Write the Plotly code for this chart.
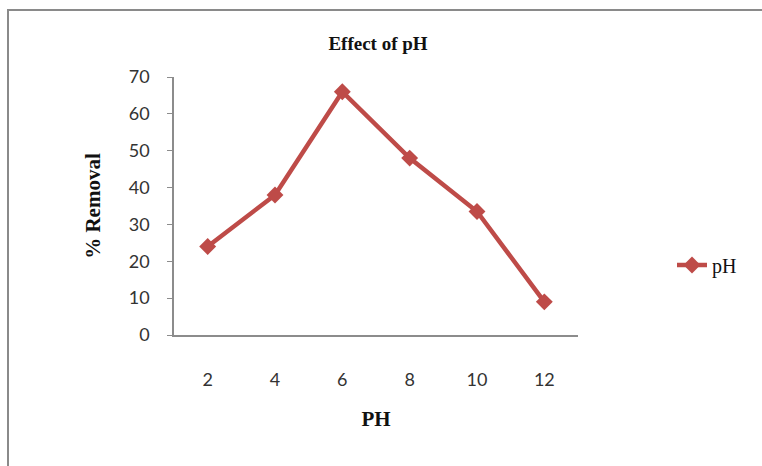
import plotly.graph_objects as go

ph_values = ["2", "4", "6", "8", "10", "12"]
removal = [24, 38, 66, 48, 33.5, 9]
y_ticks = [0, 10, 20, 30, 40, 50, 60, 70]

L, R, T, B = 174, 184, 77, 131
W, H = 762, 466
pw, ph = W - L - R, H - T - B

def px_x(x):
    return (x - L) / pw

def px_y(y):
    return (H - B - y) / ph

fig = go.Figure()
fig.add_trace(go.Scatter(
    x=ph_values, y=removal, mode="lines+markers", name="pH",
    line=dict(color="#BE4B48", width=4.5),
    marker=dict(symbol="diamond", size=13, color="#BE4B48"),
))

fig.update_layout(
    width=W, height=H,
    margin=dict(l=L, r=R, t=T, b=B),
    paper_bgcolor="white", plot_bgcolor="white",
    title=dict(text="<b>Effect of pH</b>", x=px_x(378), xref="paper", xanchor="center",
               y=1 - 43 / H, yanchor="middle",
               font=dict(family="Liberation Serif", size=19, color="#111")),
    xaxis=dict(type="category", range=[-0.5, 5.5], showline=True, linecolor="#8c8c8c",
               linewidth=1.5, ticks="", showgrid=False, zeroline=False,
               ticklabelstandoff=28,
               tickfont=dict(family="Lato", size=18, color="#333"),
               title=dict(text="<b>PH</b>", standoff=22,
                          font=dict(family="Liberation Serif", size=21, color="#111"))),
    yaxis=dict(range=[0, 70], tickvals=y_ticks, showline=True, linecolor="#8c8c8c",
               linewidth=1.5, ticks="outside", ticklen=5, tickcolor="#8c8c8c",
               showgrid=False, zeroline=False, ticklabelstandoff=14,
               tickfont=dict(family="Lato", size=18, color="#333"),
               title=dict(text="<b>% Removal</b>", standoff=22,
                          font=dict(family="Liberation Serif", size=21, color="#111"))),
    legend=dict(x=px_x(672), y=px_y(265), xanchor="left", yanchor="middle",
                font=dict(family="Liberation Serif", size=20, color="#111"),
                bgcolor="rgba(0,0,0,0)", itemwidth=30),
    showlegend=True,
)

fig.add_shape(type="rect", xref="paper", yref="paper",
              x0=px_x(8), y0=px_y(470), x1=px_x(770), y1=px_y(10),
              line=dict(color="#8a8a8a", width=2), layer="below")

fig.write_html("out.html")
